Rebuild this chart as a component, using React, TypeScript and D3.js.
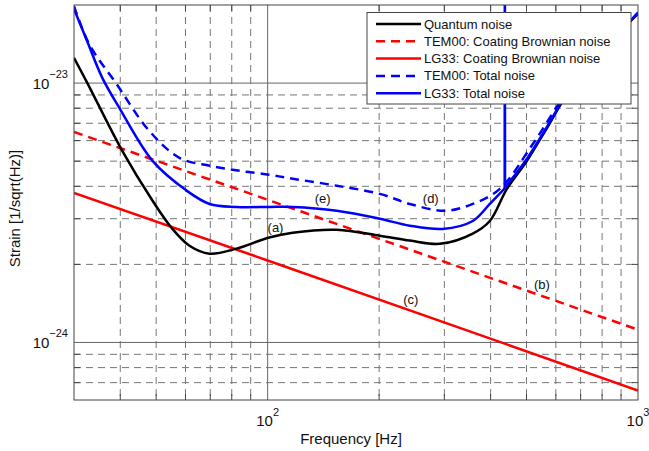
import React, { useRef, useEffect } from "react";
import * as d3 from "d3";

// frequency [Hz] / strain [1/sqrt(Hz)]
const quantumFreq = [30, 32.6, 40.5, 48.9, 55, 61.5, 69.7, 82.4, 101, 116.8, 153.7, 200.8, 242, 291.8, 358, 398, 442.6, 501, 567.6, 642.7, 788.7, 969, 1000];
const quantumNoise = [1.251e-23, 1e-23, 5.48e-24, 3.52e-24, 2.77e-24, 2.36e-24, 2.2e-24, 2.3e-24, 2.54e-24, 2.65e-24, 2.72e-24, 2.58e-24, 2.47e-24, 2.4e-24, 2.63e-24, 2.94e-24, 3.91e-24, 5.01e-24, 6.71e-24, 9.0e-24, 1.26e-23, 1.77e-23, 1.85e-23];

const coatingFreq = [30, 100, 1000];
const tem00Coating = [6.48e-24, 3.55e-24, 1.12e-24];
const lg33Coating = [3.77e-24, 2.07e-24, 6.53e-25];

const tem00TotalFreq = [30, 33, 39.1, 47.9, 57.8, 69.7, 84, 101, 116.8, 153.7, 200.8, 242, 300.8, 358, 423.6, 520, 642.7, 788.7, 1000];
const tem00Total = [1.98e-23, 1.41e-23, 9.91e-24, 6.54e-24, 5.15e-24, 4.8e-24, 4.59e-24, 4.43e-24, 4.28e-24, 4.02e-24, 3.74e-24, 3.42e-24, 3.22e-24, 3.42e-24, 3.91e-24, 5.82e-24, 9.2e-24, 1.28e-23, 1.87e-23];

const lg33TotalFreq = [30, 32.4, 35.8, 39.8, 48.9, 60.4, 69.7, 82.4, 101, 116.8, 153.7, 200.8, 242, 297, 358, 398, 436.5, 437, 437.5, 501, 567.6, 642.7, 788.7, 969, 1000];
const lg33Total = [1.93e-23, 1.476e-23, 1.045e-23, 8.01e-24, 5.01e-24, 3.85e-24, 3.42e-24, 3.33e-24, 3.33e-24, 3.33e-24, 3.22e-24, 3.0e-24, 2.82e-24, 2.74e-24, 2.94e-24, 3.42e-24, 3.93e-24, 5e-23, 3.95e-24, 5.1e-24, 6.77e-24, 9.07e-24, 1.27e-23, 1.78e-23, 1.86e-23];

const legendNames = ["Quantum noise", "TEM00: Coating Brownian noise", "LG33: Coating Brownian noise", "TEM00: Total noise", "LG33: Total noise"];

const labelText = ["(a)", "(b)", "(c)", "(d)", "(e)"];
const labelFreq = [105, 550, 243.5, 275.7, 140.8];
const labelStrain = [2.77e-24, 1.67e-24, 1.46e-24, 3.58e-24, 3.58e-24];

const xMajor = [100, 1000];
const yMajor = [1e-24, 1e-23];
const yExp = ["\u221224", "\u221223"];

const W = 649, H = 451;
const margin = { left: 74, right: 11, top: 5, bottom: 51 };
const FONT = "'Liberation Sans', Arial, sans-serif";

const App = () => {
  const ref = useRef(null);

  useEffect(() => {
    document.body.style.margin = "0";
    const svg = d3.select(ref.current);
    svg.selectAll("*").remove();

    const x = d3.scaleLog().domain([30, 1000]).range([margin.left, W - margin.right]);
    const y = d3.scaleLog().domain([6e-25, 2e-23]).range([H - margin.bottom, margin.top]);
    const [x0, x1] = x.range();
    const [y1, y0] = y.range();

    svg.append("defs").append("clipPath").attr("id", "plotclip")
      .append("rect").attr("x", x0).attr("y", y0).attr("width", x1 - x0).attr("height", y1 - y0);

    // grid
    const xMinor = [];
    for (const d of [10, 100]) for (let k = 2; k <= 9; k++) if (d * k > 30 && d * k < 1000) xMinor.push(d * k);
    const yMinor = [];
    for (const d of [1e-25, 1e-24, 1e-23]) for (let k = 2; k <= 9; k++) {
      const v = d * k;
      if (v > 6.01e-25 && v < 1.99e-23) yMinor.push(v);
    }

    const grid = svg.append("g");
    grid.selectAll("line.xm").data(xMinor).enter().append("line")
      .attr("x1", d => x(d)).attr("x2", d => x(d)).attr("y1", y0).attr("y2", y1)
      .attr("stroke", "#777").attr("stroke-width", 1).attr("stroke-dasharray", "7,5");
    grid.selectAll("line.ym").data(yMinor).enter().append("line")
      .attr("y1", d => y(d)).attr("y2", d => y(d)).attr("x1", x0).attr("x2", x1)
      .attr("stroke", "#777").attr("stroke-width", 1).attr("stroke-dasharray", "7,5");
    grid.selectAll("line.xM").data([100]).enter().append("line")
      .attr("x1", d => x(d)).attr("x2", d => x(d)).attr("y1", y0).attr("y2", y1)
      .attr("stroke", "#666").attr("stroke-width", 1);
    grid.selectAll("line.yM").data(yMajor).enter().append("line")
      .attr("y1", d => y(d)).attr("y2", d => y(d)).attr("x1", x0).attr("x2", x1)
      .attr("stroke", "#666").attr("stroke-width", 1);

    // ticks on all sides, pointing inwards
    const ticks = svg.append("g").attr("stroke", "#444").attr("stroke-width", 1);
    xMinor.forEach(d => {
      ticks.append("line").attr("x1", x(d)).attr("x2", x(d)).attr("y1", y1).attr("y2", y1 - 6);
      ticks.append("line").attr("x1", x(d)).attr("x2", x(d)).attr("y1", y0).attr("y2", y0 + 6);
    });
    yMinor.forEach(d => {
      ticks.append("line").attr("y1", y(d)).attr("y2", y(d)).attr("x1", x0).attr("x2", x0 + 6);
      ticks.append("line").attr("y1", y(d)).attr("y2", y(d)).attr("x1", x1).attr("x2", x1 - 6);
    });

    const plot = svg.append("g").attr("clip-path", "url(#plotclip)");
    const smooth = d3.curveCatmullRom.alpha(0.5);
    const pts = (fs, vs) => vs.map((v, i) => [x(fs[i]), y(v)]);
    const lineGen = curve => d3.line().curve(curve);

    // the narrow resonance in the LG33 total is drawn on its own, straight
    const spikeIdx = lg33Total.indexOf(d3.max(lg33Total));
    const lg33Pts = pts(lg33TotalFreq, lg33Total);
    const lg33Smooth = lg33Pts.filter((p, i) => i !== spikeIdx);
    const lg33Spike = lg33Pts.slice(spikeIdx - 1, spikeIdx + 2);

    const series = [
      { p: pts(coatingFreq, tem00Coating), color: "#ff0000", dash: "9,6", curve: d3.curveLinear },
      { p: pts(coatingFreq, lg33Coating), color: "#ff0000", dash: null, curve: d3.curveLinear },
      { p: pts(quantumFreq, quantumNoise), color: "#000000", dash: null, curve: smooth },
      { p: pts(tem00TotalFreq, tem00Total), color: "#0000ff", dash: "9,6", curve: smooth },
      { p: lg33Smooth, color: "#0000ff", dash: null, curve: smooth },
    ];
    series.forEach(s => {
      plot.append("path").attr("d", lineGen(s.curve)(s.p))
        .attr("fill", "none").attr("stroke", s.color).attr("stroke-width", 2.5)
        .attr("stroke-dasharray", s.dash);
    });
    plot.append("path").attr("d", lineGen(d3.curveLinear)(lg33Spike))
      .attr("fill", "none").attr("stroke", "#0000ff").attr("stroke-width", 2.5);

    // curve labels
    svg.selectAll("text.lab").data(labelText).enter().append("text")
      .attr("x", (d, i) => x(labelFreq[i])).attr("y", (d, i) => y(labelStrain[i]))
      .attr("dy", "0.35em").attr("text-anchor", "middle")
      .attr("font-family", FONT).attr("font-size", 13).attr("fill", "#111").text(d => d);

    // frame
    svg.append("rect").attr("x", x0).attr("y", y0).attr("width", x1 - x0).attr("height", y1 - y0)
      .attr("fill", "none").attr("stroke", "#444").attr("stroke-width", 1);

    // tick labels
    xMajor.forEach((d, i) => {
      const t = svg.append("text").attr("x", x(d)).attr("y", y1 + 26).attr("text-anchor", "middle")
        .attr("font-family", FONT).attr("font-size", 15).attr("fill", "#111");
      t.append("tspan").text("10");
      t.append("tspan").attr("dy", -10).attr("font-size", 11).text(String(i + 2));
    });
    yMajor.forEach((d, i) => {
      const t = svg.append("text").attr("x", x0 - 6).attr("y", y(d) + 6).attr("text-anchor", "end")
        .attr("font-family", FONT).attr("font-size", 15).attr("fill", "#111");
      t.append("tspan").text("10");
      t.append("tspan").attr("dy", -11).attr("font-size", 11).text(yExp[i]);
    });

    svg.append("text").attr("x", (x0 + x1) / 2 - 5).attr("y", 444).attr("text-anchor", "middle")
      .attr("font-family", FONT).attr("font-size", 15).attr("fill", "#111").text("Frequency [Hz]");
    svg.append("text").attr("transform", `translate(20, ${(y0 + y1) / 2 + 6}) rotate(-90)`)
      .attr("text-anchor", "middle").attr("font-family", FONT).attr("font-size", 15).attr("fill", "#111")
      .text("Strain [1/sqrt(Hz)]");

    // legend
    const lg = svg.append("g");
    lg.append("rect").attr("x", 367).attr("y", 12.5).attr("width", 264).attr("height", 91.5)
      .attr("fill", "#fff").attr("stroke", "#444").attr("stroke-width", 1);
    const order = [2, 0, 1, 3, 4];
    legendNames.forEach((name, i) => {
      const s = series[order[i]];
      const yy = 24 + i * 17.3;
      lg.append("line").attr("x1", 376).attr("x2", 421).attr("y1", yy).attr("y2", yy)
        .attr("stroke", s.color).attr("stroke-width", 2.5).attr("stroke-dasharray", s.dash);
      lg.append("text").attr("x", 424).attr("y", yy).attr("dy", "0.35em")
        .attr("font-family", FONT).attr("font-size", 13).attr("fill", "#111").text(name);
    });
  }, []);

  return (
    <div>
      <svg ref={ref} width={W} height={H} style={{ display: "block", background: "#fff" }} />
    </div>
  );
};

export default App;
